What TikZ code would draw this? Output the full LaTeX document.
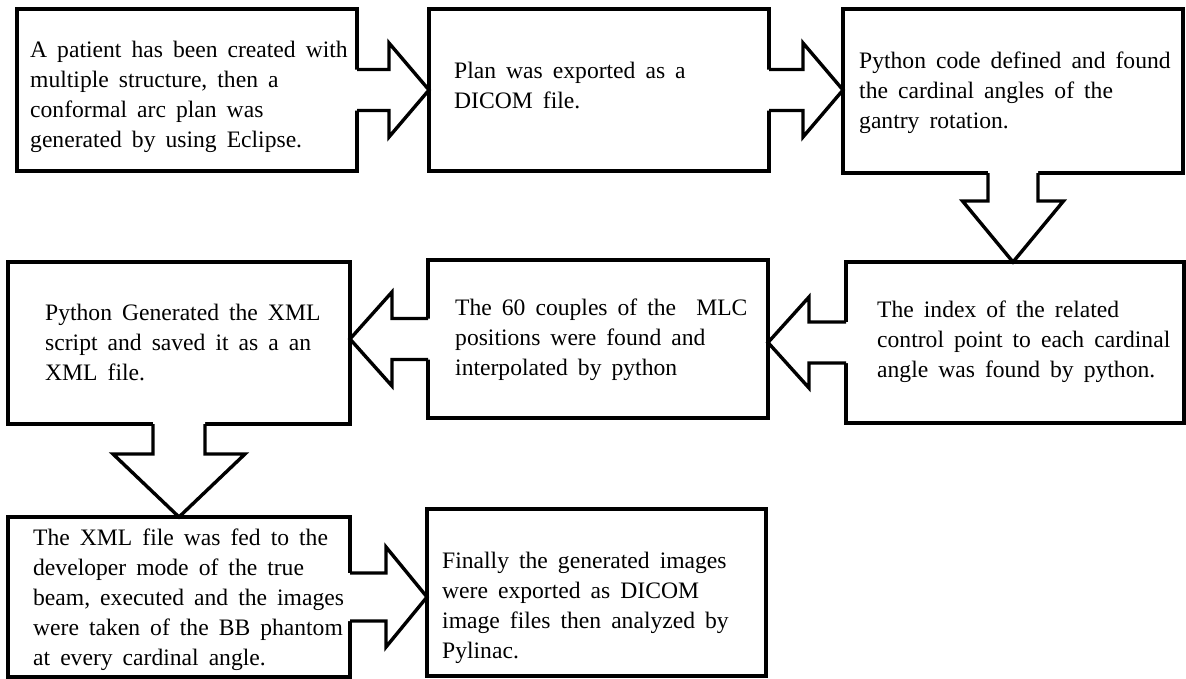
\documentclass[tikz,border=0pt]{standalone}
\usepackage{fontspec}
\setmainfont{Liberation Serif}[WordSpace=1.7]
\usetikzlibrary{calc}

% several lines of a step, first baseline as the node's baseline
\newcommand\steplines[1]{\begin{tabular}[t]{@{}l@{}}#1\end{tabular}}

\tikzset{
  stepbox/.style={draw=black, line width=3.4pt, fill=white, inner sep=0pt, outer sep=0pt, rectangle},
  steptext/.style={inner sep=0pt, anchor=base west, font=\fontsize{23.6}{30}\selectfont},
  flowline/.style={draw=black, line width=3.4pt, line join=miter},
}

% block arrows: #1 source, #2 target, #3 half shaft, #4 half head, #5 head length
\newcommand\flowright[5]{%
  \fill[white] let \p1=(#1.east), \p2=(#2.west), \p3=(#1.center) in
    (\x1-3pt,\y3+#3pt) -- (\x2-#5pt,\y3+#3pt) -- (\x2-#5pt,\y3+#4pt) -- (\x2,\y3)
    -- (\x2-#5pt,\y3-#4pt) -- (\x2-#5pt,\y3-#3pt) -- (\x1-3pt,\y3-#3pt) -- cycle;
  \draw[flowline] let \p1=(#1.east), \p2=(#2.west), \p3=(#1.center) in
    (\x1,\y3+#3pt) -- (\x2-#5pt,\y3+#3pt) -- (\x2-#5pt,\y3+#4pt) -- (\x2,\y3)
    -- (\x2-#5pt,\y3-#4pt) -- (\x2-#5pt,\y3-#3pt) -- (\x1,\y3-#3pt);
}
\newcommand\flowleft[5]{%
  \fill[white] let \p1=(#1.west), \p2=(#2.east), \p3=(#1.center) in
    (\x1+3pt,\y3+#3pt) -- (\x2+#5pt,\y3+#3pt) -- (\x2+#5pt,\y3+#4pt) -- (\x2,\y3)
    -- (\x2+#5pt,\y3-#4pt) -- (\x2+#5pt,\y3-#3pt) -- (\x1+3pt,\y3-#3pt) -- cycle;
  \draw[flowline] let \p1=(#1.west), \p2=(#2.east), \p3=(#1.center) in
    (\x1,\y3+#3pt) -- (\x2+#5pt,\y3+#3pt) -- (\x2+#5pt,\y3+#4pt) -- (\x2,\y3)
    -- (\x2+#5pt,\y3-#4pt) -- (\x2+#5pt,\y3-#3pt) -- (\x1,\y3-#3pt);
}
\newcommand\flowdown[5]{%
  \fill[white] let \p1=(#1.south), \p2=(#2.north), \p3=(#1.center) in
    (\x3-#3pt,\y1+3pt) -- (\x3-#3pt,\y2+#5pt) -- (\x3-#4pt,\y2+#5pt) -- (\x3,\y2)
    -- (\x3+#4pt,\y2+#5pt) -- (\x3+#3pt,\y2+#5pt) -- (\x3+#3pt,\y1+3pt) -- cycle;
  \draw[flowline] let \p1=(#1.south), \p2=(#2.north), \p3=(#1.center) in
    (\x3-#3pt,\y1) -- (\x3-#3pt,\y2+#5pt) -- (\x3-#4pt,\y2+#5pt) -- (\x3,\y2)
    -- (\x3+#4pt,\y2+#5pt) -- (\x3+#3pt,\y2+#5pt) -- (\x3+#3pt,\y1);
}

\begin{document}
\begin{tikzpicture}[x=1pt, y=-1pt]
\useasboundingbox (0,0) rectangle (1186,678);

% boxes
\node[stepbox, minimum width=340pt, minimum height=162pt] (b1) at (187,90) {};
\node[stepbox, minimum width=340pt, minimum height=162pt] (b2) at (599,90) {};
\node[stepbox, minimum width=340pt, minimum height=164pt] (b3) at (1013,91) {};
\node[stepbox, minimum width=338pt, minimum height=161pt] (b6) at (1015,342.5) {};
\node[stepbox, minimum width=340pt, minimum height=158pt] (b5) at (598,339) {};
\node[stepbox, minimum width=342pt, minimum height=162pt] (b4) at (179,343) {};
\node[stepbox, minimum width=342pt, minimum height=160pt] (b7) at (179,597) {};
\node[stepbox, minimum width=339pt, minimum height=167pt] (b8) at (596.5,592.5) {};

% block arrows between the steps
\flowright{b1}{b2}{20.5}{47}{40}
\flowright{b2}{b3}{20.5}{47}{40}
\flowdown{b3}{b6}{25}{50.5}{61}
\flowleft{b6}{b5}{20.5}{45.5}{41}
\flowleft{b5}{b4}{20.5}{47}{42}
\flowdown{b4}{b7}{26}{66}{63}
\flowright{b7}{b8}{24}{50}{41}

% step texts
\node[steptext] (t1) at (30,57) {\steplines{A patient has been created with\\ multiple structure, then a\\ conformal arc plan was\\ generated by using Eclipse.}};
\node[steptext] (t2) at (454,78) {\steplines{Plan was exported as a\\ DICOM file.}};
\node[steptext] (t3) at (859,68) {\steplines{Python code defined and found\\ the cardinal angles of the\\ gantry rotation.}};
\node[steptext] (t6) at (877,317) {\steplines{The index of the related\\ control point to each cardinal\\ angle was found by python.}};
\node[steptext] (t5) at (455,315) {\steplines{The 60 couples of the\ \ MLC\\ positions were found and\\ interpolated by python}};
\node[steptext] (t4) at (45,320) {\steplines{Python Generated the XML\\ script and saved it as a an\\ XML file.}};
\node[steptext] (t7) at (33,545) {\steplines{The XML file was fed to the\\ developer mode of the true\\ beam, executed and the images\\ were taken of the BB phantom\\ at every cardinal angle.}};
\node[steptext] (t8) at (442,568) {\steplines{Finally the generated images\\ were exported as DICOM\\ image files then analyzed by\\ Pylinac.}};
\end{tikzpicture}
\end{document}
